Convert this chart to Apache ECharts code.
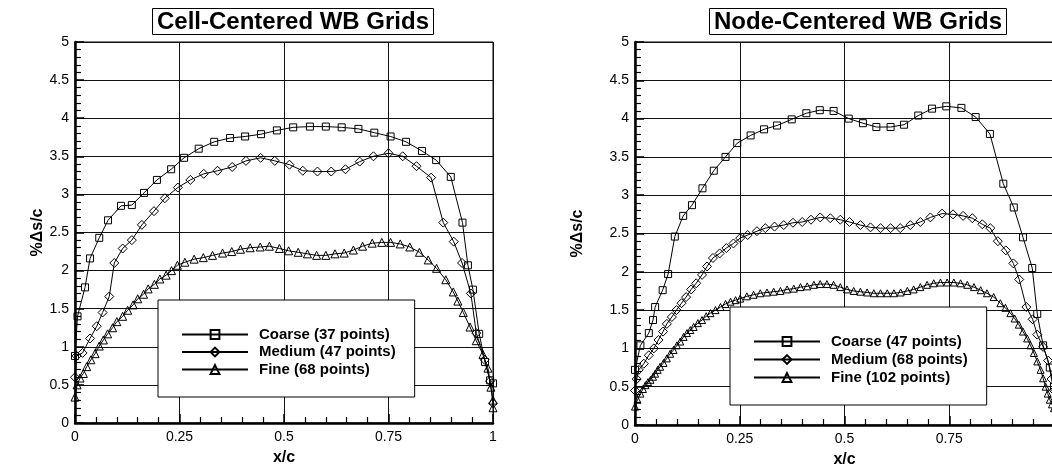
<!DOCTYPE html>
<html>
<head>
<meta charset="utf-8">
<script src="https://cdn.jsdelivr.net/npm/echarts@6/dist/echarts.min.js"></script>
<style>
  html, body { margin: 0; padding: 0; background: #fff; }
  #chart { width: 1052px; height: 466px; }
</style>
</head>
<body>
<div id="chart"></div>
<script>
// Panel titles and axis captions
const panelTitles = ['Cell-Centered WB Grids', 'Node-Centered WB Grids'];
const xName = 'x/c';
const yName = '%\u0394s/c';

// Series names (legend entries)
const cellNames = ['Coarse (37 points)', 'Medium (47 points)', 'Fine (68 points)'];
const nodeNames = ['Coarse (47 points)', 'Medium (68 points)', 'Fine (102 points)'];

// Cell-centered grids: [x/c, %Δs/c]
const cellCoarse = [
  [0, 0.88], [0.006, 1.4], [0.024, 1.78], [0.036, 2.16], [0.058, 2.43], [0.079, 2.66],
  [0.11, 2.85], [0.136, 2.86], [0.165, 3.02], [0.196, 3.19], [0.23, 3.33], [0.261, 3.48],
  [0.296, 3.6], [0.333, 3.69], [0.371, 3.74], [0.407, 3.76], [0.445, 3.79], [0.483, 3.84],
  [0.522, 3.88], [0.562, 3.89], [0.6, 3.89], [0.638, 3.88], [0.678, 3.86], [0.716, 3.81],
  [0.755, 3.76], [0.792, 3.69], [0.83, 3.57], [0.864, 3.45], [0.899, 3.23], [0.927, 2.63],
  [0.94, 2.07], [0.952, 1.75], [0.967, 1.17], [0.981, 0.8], [0.993, 0.56], [1, 0.52]
];
const cellMedium = [
  [0, 0.6], [0.004, 0.88], [0.018, 0.92], [0.036, 1.11], [0.052, 1.27], [0.066, 1.45],
  [0.082, 1.66], [0.094, 2.1], [0.114, 2.29], [0.136, 2.4], [0.16, 2.6], [0.189, 2.78],
  [0.215, 2.95], [0.246, 3.09], [0.276, 3.19], [0.308, 3.27], [0.341, 3.31], [0.376, 3.36],
  [0.409, 3.44], [0.444, 3.48], [0.478, 3.44], [0.513, 3.39], [0.545, 3.31], [0.58, 3.3],
  [0.613, 3.3], [0.647, 3.33], [0.681, 3.43], [0.714, 3.5], [0.75, 3.54], [0.784, 3.5],
  [0.817, 3.37], [0.852, 3.22], [0.881, 2.63], [0.906, 2.38], [0.926, 2.1], [0.947, 1.7],
  [0.96, 1.18], [0.98, 0.83], [0.993, 0.55], [1, 0.26]
];
const cellFine = [
  [0, 0.34], [0.005, 0.5], [0.012, 0.59], [0.02, 0.65], [0.028, 0.74], [0.038, 0.83],
  [0.048, 0.91], [0.058, 1.01], [0.068, 1.09], [0.078, 1.17], [0.09, 1.25], [0.1, 1.33],
  [0.114, 1.4], [0.126, 1.48], [0.139, 1.55], [0.15, 1.63], [0.164, 1.69], [0.175, 1.76],
  [0.19, 1.82], [0.203, 1.89], [0.218, 1.94], [0.231, 2.0], [0.245, 2.07], [0.263, 2.11],
  [0.285, 2.15], [0.307, 2.17], [0.329, 2.2], [0.353, 2.23], [0.375, 2.25], [0.396, 2.28],
  [0.419, 2.3], [0.443, 2.31], [0.465, 2.32], [0.489, 2.29], [0.511, 2.26], [0.534, 2.24],
  [0.556, 2.22], [0.578, 2.2], [0.6, 2.2], [0.622, 2.22], [0.644, 2.23], [0.666, 2.27],
  [0.688, 2.32], [0.711, 2.36], [0.734, 2.37], [0.755, 2.37], [0.778, 2.35], [0.801, 2.31],
  [0.824, 2.24], [0.845, 2.14], [0.865, 2.03], [0.887, 1.88], [0.905, 1.72], [0.916, 1.6],
  [0.929, 1.45], [0.945, 1.26], [0.96, 1.08], [0.976, 0.9], [0.988, 0.72], [0.995, 0.47],
  [1, 0.3], [1, 0.2]
];

// Node-centered grids: [x/c, %Δs/c]
const nodeCoarse = [
  [0, 0.72], [0.013, 1.04], [0.033, 1.2], [0.043, 1.37], [0.048, 1.54], [0.066, 1.76],
  [0.079, 1.97], [0.095, 2.46], [0.115, 2.73], [0.136, 2.87], [0.161, 3.09], [0.188, 3.32],
  [0.216, 3.5], [0.244, 3.68], [0.276, 3.78], [0.308, 3.86], [0.339, 3.91], [0.374, 3.99],
  [0.409, 4.07], [0.441, 4.11], [0.474, 4.1], [0.51, 4.0], [0.544, 3.94], [0.576, 3.89],
  [0.61, 3.89], [0.642, 3.92], [0.676, 4.04], [0.709, 4.13], [0.743, 4.16], [0.779, 4.14],
  [0.813, 4.02], [0.847, 3.8], [0.879, 3.15], [0.904, 2.84], [0.926, 2.45], [0.948, 2.05],
  [0.96, 1.45], [0.974, 1.04], [0.99, 0.75], [1, 0.5]
];
const nodeMedium = [
  [0, 0.45], [0.004, 0.6], [0.009, 0.72], [0.021, 0.8], [0.033, 0.91], [0.045, 1.0],
  [0.056, 1.11], [0.067, 1.22], [0.076, 1.32], [0.088, 1.41], [0.099, 1.5], [0.111, 1.59],
  [0.122, 1.67], [0.134, 1.77], [0.146, 1.85], [0.16, 1.96], [0.172, 2.07], [0.186, 2.18],
  [0.202, 2.24], [0.218, 2.31], [0.235, 2.37], [0.251, 2.44], [0.269, 2.48], [0.291, 2.53],
  [0.311, 2.57], [0.333, 2.59], [0.355, 2.61], [0.377, 2.64], [0.399, 2.65], [0.42, 2.68],
  [0.442, 2.71], [0.466, 2.7], [0.49, 2.68], [0.512, 2.65], [0.538, 2.61], [0.562, 2.58],
  [0.586, 2.57], [0.61, 2.57], [0.633, 2.57], [0.657, 2.61], [0.681, 2.65], [0.705, 2.71],
  [0.733, 2.76], [0.759, 2.75], [0.783, 2.73], [0.805, 2.7], [0.829, 2.62], [0.848, 2.57],
  [0.866, 2.4], [0.885, 2.28], [0.903, 2.11], [0.917, 1.9], [0.934, 1.54], [0.949, 1.38],
  [0.96, 1.18], [0.974, 1.02], [0.986, 0.84], [0.994, 0.6], [1, 0.45]
];
const nodeFine = [
  [0, 0.24], [0.006, 0.33], [0.013, 0.41], [0.019, 0.47], [0.025, 0.52], [0.031, 0.56],
  [0.037, 0.59], [0.043, 0.63], [0.048, 0.67], [0.054, 0.72], [0.06, 0.76], [0.068, 0.81],
  [0.076, 0.87], [0.084, 0.93], [0.092, 0.98], [0.1, 1.04], [0.108, 1.09], [0.116, 1.15],
  [0.124, 1.2], [0.132, 1.24], [0.14, 1.28], [0.15, 1.33], [0.16, 1.37], [0.17, 1.42],
  [0.18, 1.46], [0.192, 1.5], [0.204, 1.54], [0.216, 1.58], [0.228, 1.61], [0.24, 1.63],
  [0.251, 1.65], [0.267, 1.68], [0.283, 1.7], [0.299, 1.72], [0.315, 1.73], [0.331, 1.74],
  [0.347, 1.75], [0.363, 1.77], [0.379, 1.78], [0.395, 1.8], [0.411, 1.81], [0.427, 1.83],
  [0.442, 1.84], [0.458, 1.84], [0.474, 1.83], [0.49, 1.8], [0.506, 1.77], [0.522, 1.75],
  [0.538, 1.74], [0.554, 1.73], [0.57, 1.72], [0.586, 1.72], [0.602, 1.72], [0.618, 1.72],
  [0.634, 1.73], [0.65, 1.75], [0.665, 1.77], [0.681, 1.8], [0.697, 1.83], [0.713, 1.85],
  [0.729, 1.86], [0.745, 1.86], [0.761, 1.86], [0.777, 1.85], [0.793, 1.83], [0.809, 1.8],
  [0.825, 1.76], [0.84, 1.72], [0.856, 1.67], [0.872, 1.59], [0.884, 1.53], [0.896, 1.46],
  [0.906, 1.39], [0.916, 1.31], [0.926, 1.22], [0.936, 1.13], [0.944, 1.04], [0.952, 0.94],
  [0.96, 0.83], [0.968, 0.72], [0.974, 0.61], [0.98, 0.5], [0.985, 0.41], [0.99, 0.33],
  [0.995, 0.27], [1, 0.22]
];

const FONT = '"Liberation Sans", Arial, Helvetica, sans-serif';

function xAxisFor(gridIndex, showLast) {
  return {
    type: 'value', gridIndex, min: 0, max: 1, interval: 0.25,
    axisLine: { show: true, onZero: false, lineStyle: { color: '#000', width: 2.5 } },
    axisTick: { show: true, inside: true, length: 9, lineStyle: { color: '#000', width: 1.5 } },
    minorTick: { show: true, splitNumber: 5, length: 6, lineStyle: { color: '#000', width: 1.2 } },
    splitLine: { show: true, lineStyle: { color: '#111', width: 1 } },
    axisLabel: { color: '#000', fontSize: 14, fontFamily: FONT, margin: 7, showMaxLabel: showLast },
    name: xName, nameLocation: 'middle', nameGap: 27,
    nameTextStyle: { color: '#000', fontSize: 16, fontWeight: 'bold', fontFamily: FONT }
  };
}

function yAxisFor(gridIndex, gap) {
  return {
    type: 'value', gridIndex, min: 0, max: 5, interval: 0.5,
    axisLine: { show: true, onZero: false, lineStyle: { color: '#000', width: 2.5 } },
    axisTick: { show: true, inside: true, length: 9, lineStyle: { color: '#000', width: 1.5 } },
    minorTick: { show: true, splitNumber: 5, length: 6, lineStyle: { color: '#000', width: 1.2 } },
    splitLine: { show: true, lineStyle: { color: '#111', width: 1 } },
    axisLabel: { color: '#000', fontSize: 14, fontFamily: FONT, margin: 6 },
    name: yName, nameLocation: 'middle', nameGap: gap,
    nameTextStyle: { color: '#000', fontSize: 16, fontWeight: 'bold', fontFamily: FONT }
  };
}

function curve(name, data, symbol, size, idx) {
  return {
    name, type: 'line', data, symbol, symbolSize: size,
    xAxisIndex: idx, yAxisIndex: idx,
    lineStyle: { color: '#000', width: 1 },
    itemStyle: { color: 'rgba(0,0,0,0)', borderColor: '#000', borderWidth: 1 },
    emphasis: { disabled: true },
    animation: false
  };
}

function legendFor(names, left, top, gap, textPad) {
  return {
    data: names, orient: 'vertical', left, top,
    padding: [27, 19, 20, 23],
    itemWidth: 66, itemHeight: 11, itemGap: gap,
    backgroundColor: '#fff', borderColor: '#000', borderWidth: 1,
    selectedMode: false,
    textStyle: { color: '#000', fontSize: 15, fontWeight: 'bold', fontFamily: FONT,
                 lineHeight: 15, padding: [0, 0, 0, textPad] },
    z: 10
  };
}

function titleFor(text, left) {
  return {
    text, left, top: 8, padding: [1, 5, 0, 5],
    borderColor: '#000', borderWidth: 1, backgroundColor: '#fff',
    textStyle: { color: '#000', fontSize: 24, fontWeight: 'bold', fontFamily: FONT, lineHeight: 26 }
  };
}

const chart = echarts.init(document.getElementById('chart'), null, { renderer: 'canvas' });
chart.setOption({
  animation: false,
  backgroundColor: '#fff',
  title: [titleFor(panelTitles[0], 152), titleFor(panelTitles[1], 709)],
  grid: [
    { left: 75, top: 42, width: 418, height: 381, show: true, borderColor: '#000', borderWidth: 1,
      containLabel: false, outerBoundsMode: 'none' },
    { left: 635, top: 42, width: 419, height: 383, show: true, borderColor: '#000', borderWidth: 1,
      containLabel: false, outerBoundsMode: 'none' }
  ],
  xAxis: [xAxisFor(0, true), xAxisFor(1, false)],
  yAxis: [yAxisFor(0, 24), yAxisFor(1, 49)],
  legend: [
    legendFor(cellNames, 158, 300, 2.5, 6),
    legendFor(nodeNames, 730, 307, 3, 6)
  ],
  series: [
    curve(cellNames[0], cellCoarse, 'rect', 7, 0),
    curve(cellNames[1], cellMedium, 'diamond', 9, 0),
    curve(cellNames[2], cellFine, 'triangle', 8, 0),
    curve(nodeNames[0], nodeCoarse, 'rect', 7, 1),
    curve(nodeNames[1], nodeMedium, 'diamond', 9, 1),
    curve(nodeNames[2], nodeFine, 'triangle', 7, 1)
  ]
});
</script>
</body>
</html>
